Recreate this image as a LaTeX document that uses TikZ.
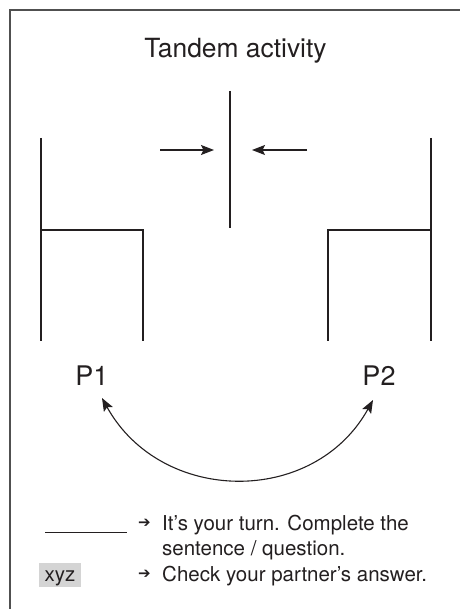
\documentclass[tikz,border=0pt]{standalone}
\usepackage{fontspec}
\setmainfont{TeX Gyre Heros}
\newfontfamily\dv{DejaVu Sans}
\usetikzlibrary{arrows.meta}
\definecolor{ink}{RGB}{35,31,32}
\definecolor{framec}{RGB}{80,80,80}
\definecolor{boxgray}{RGB}{212,212,212}
\tikzset{
  frameline/.style={draw=framec, line width=1.6pt},
  chair/.style={draw=ink, line width=2.2pt, line cap=butt, line join=miter},
  thin/.style={draw=ink, line width=1.1pt},
  tip/.style={-{Stealth[length=13pt,width=10pt,inset=2.5pt]}},
  dtip/.style={{Stealth[length=13pt,width=10pt,inset=2.5pt]}-{Stealth[length=13pt,width=10pt,inset=2.5pt]}},
  bigtext/.style={inner sep=0pt, text=ink, font=\fontsize{26.4}{30}\selectfont},
  plabel/.style={inner sep=0pt, text=ink, font=\fontsize{27}{31}\selectfont},
  legtext/.style={inner sep=0pt, text=ink, anchor=base west, font=\fontsize{20.5}{24}\selectfont},
  legarrow/.style={inner sep=0pt, text=ink, font=\dv\fontsize{15}{17}\selectfont}
}
\begin{document}
\begin{tikzpicture}[x=1pt,y=1pt]
\useasboundingbox (0,0) rectangle (459,-609);
% frame (clipped at right and bottom)
\draw[frameline] (10,-612) -- (10,-10) -- (462,-10);
% title
\node[bigtext, anchor=base] (title) at (235.5,-58) {Tandem activity};
% left chair
\draw[chair] (41,-138) -- (41,-341);
\draw[chair] (41,-230) -- (143,-230) -- (143,-341);
% right chair
\draw[chair] (431,-138) -- (431,-341);
\draw[chair] (431,-230) -- (328,-230) -- (328,-341);
% middle divider and arrows
\coordinate (mtop) at (230,-91);
\coordinate (mbot) at (230,-228);
\draw[thin] (mtop) -- (mbot);
\coordinate (la) at (160,-150);
\coordinate (lb) at (214,-150);
\coordinate (ra) at (307,-150);
\coordinate (rb) at (252,-150);
\draw[thin, tip] (la) -- (lb);
\draw[thin, tip] (ra) -- (rb);
% labels
\node[plabel, anchor=base] (p1) at (92,-385) {P1};
\node[plabel, anchor=base] (p2) at (379,-385) {P2};
% curved double arrow
\coordinate (c1) at (102,-398);
\coordinate (c2) at (373,-400);
\draw[thin, dtip] (c1) to[out=-61, in=-119, looseness=1.15] (c2);
% legend
\coordinate (u1) at (45,-532);
\coordinate (u2) at (127,-532);
\draw[draw=ink, line width=1pt] (u1) -- (u2);
\node[legarrow] (a1) at (144.5,-523.5) {➔};
\node[legtext] (t1) at (162,-530) {It’s your turn. Complete the};
\node[legtext] (t2) at (162,-555.5) {sentence / question.};
\node[fill=boxgray, minimum width=42pt, minimum height=24pt, inner sep=0pt] (xyzbox) at (60,-575) {};
\node[legtext, anchor=base] (xyz) at (60,-581) {xyz};
\node[legarrow] (a2) at (144.5,-574.5) {➔};
\node[legtext] (t3) at (162,-581) {Check your partner’s answer.};
\end{tikzpicture}
\end{document}
